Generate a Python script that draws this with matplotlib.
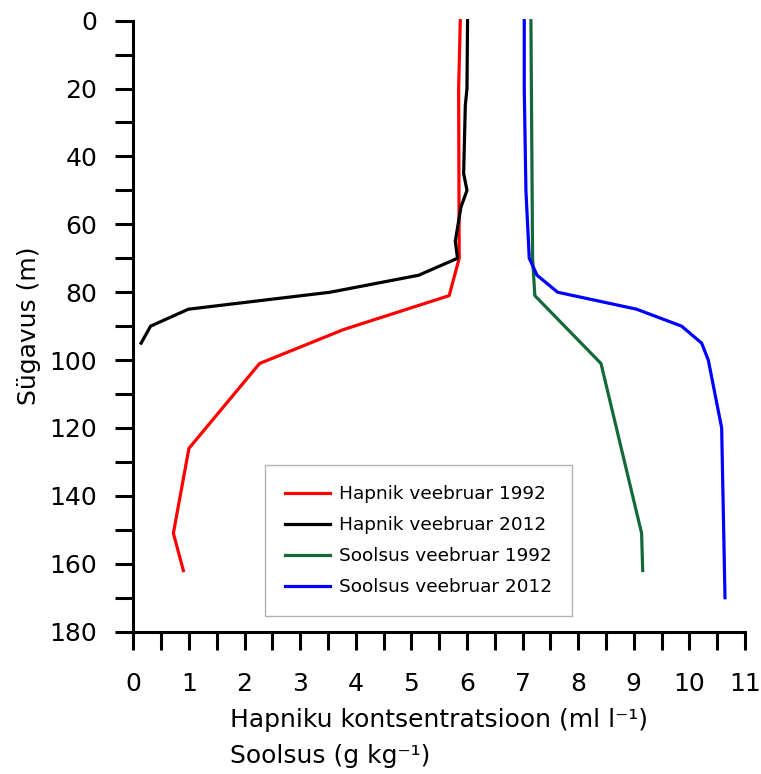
"""Hapniku ja soolsuse vertikaalprofiilid (veebruar 1992 ja 2012)."""

import matplotlib
matplotlib.use("Agg")
import matplotlib.pyplot as plt
from matplotlib.ticker import MultipleLocator

# sügavus (m) ja väärtused, loetud jooniselt
SYGAVUS_O2_1992 = [0, 20, 70, 81, 91, 101, 126, 151, 162]
HAPNIK_1992 = [5.88, 5.85, 5.86, 5.68, 3.78, 2.27, 1.00, 0.72, 0.90]

SYGAVUS_O2_2012 = [0, 20, 25, 45, 50, 55, 65, 70, 75, 80, 85, 90, 95]
HAPNIK_2012 = [6.01, 6.00, 5.97, 5.94, 6.00, 5.89, 5.79, 5.83, 5.13, 3.54, 0.99, 0.31, 0.14]

SYGAVUS_S_1992 = [0, 70, 81, 101, 151, 162]
SOOLSUS_1992 = [7.15, 7.18, 7.22, 8.41, 9.14, 9.16]

SYGAVUS_S_2012 = [0, 20, 50, 70, 75, 80, 85, 90, 95, 100, 120, 170]
SOOLSUS_2012 = [7.03, 7.03, 7.06, 7.12, 7.26, 7.63, 9.05, 9.86, 10.22, 10.34, 10.58, 10.64]

SILDID = [
    "Hapnik veebruar 1992",
    "Hapnik veebruar 2012",
    "Soolsus veebruar 1992",
    "Soolsus veebruar 2012",
]
VARVID = ["#ff0000", "#000000", "#13693a", "#0000ff"]

fig = plt.figure(figsize=(7.61, 7.74), dpi=100)
ax = fig.add_axes([0.1752, 0.1839, 0.8038, 0.7894])

seeriad = [
    (HAPNIK_1992, SYGAVUS_O2_1992),
    (HAPNIK_2012, SYGAVUS_O2_2012),
    (SOOLSUS_1992, SYGAVUS_S_1992),
    (SOOLSUS_2012, SYGAVUS_S_2012),
]
for (x, y), silt, varv in zip(seeriad, SILDID, VARVID):
    ax.plot(x, y, color=varv, lw=2.3, label=silt, clip_on=False)

ax.set_xlim(0, 11)
ax.set_ylim(180, 0)

for s in ("top", "right"):
    ax.spines[s].set_visible(False)
for s in ("left", "bottom"):
    ax.spines[s].set_linewidth(2.2)

ax.xaxis.set_major_locator(MultipleLocator(1))
ax.xaxis.set_minor_locator(MultipleLocator(0.5))
ax.yaxis.set_major_locator(MultipleLocator(20))
ax.yaxis.set_minor_locator(MultipleLocator(10))

ax.tick_params(axis="both", which="both", direction="out", length=13, width=2.2)
ax.tick_params(axis="x", which="major", labelsize=18, pad=16)
ax.tick_params(axis="y", which="major", labelsize=18, pad=13)

ax.set_xlabel(
    "Hapniku kontsentratsioon (ml l\u207b\u00b9)\nSoolsus (g kg\u207b\u00b9)",
    fontsize=18,
    multialignment="left",
    linespacing=1.6,
    labelpad=9,
)
ax.set_ylabel("Sügavus (m)", fontsize=18, labelpad=6)

leg = ax.legend(
    loc="upper left",
    bbox_to_anchor=(0.2153, 0.2728),
    borderaxespad=0,
    fontsize=13.3,
    handlelength=2.4,
    handletextpad=0.5,
    labelspacing=0.7,
    borderpad=1.1,
    fancybox=False,
    frameon=True,
)
leg.get_frame().set_edgecolor("#a0a0a0")
leg.get_frame().set_linewidth(1.0)
for ln in leg.get_lines():
    ln.set_linewidth(2.3)

fig.savefig("out.png", dpi=100)
